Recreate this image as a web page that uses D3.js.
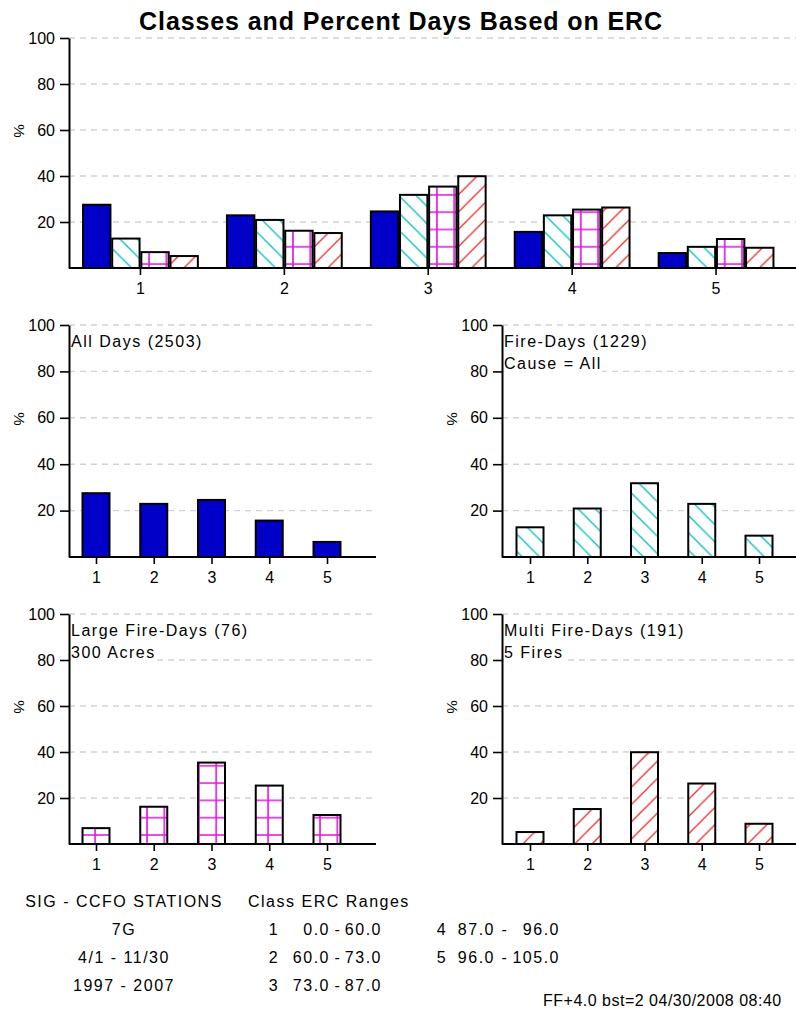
<html>

<head>
    <meta charset="utf-8">
    <style>
        body {
            margin: 0;
            background: white;
            font-family: "Liberation Sans", Arial, sans-serif;
        }

        svg {
            display: block;
        }

        .axis text {
            font-size: 16px;
            font-family: "Liberation Sans", Arial, sans-serif;
            fill: black;
        }

        .note {
            font-size: 16px;
            letter-spacing: 1.5px;
        }
    </style>
    <script src="https://d3js.org/d3.v7.min.js"></script>
</head>

<body>
    <svg id="Chart"></svg>
</body>

<script>
    // values (percent of days per ERC class)
    let classes = [1, 2, 3, 4, 5]
    let seriesNames = ["All Days", "Fire-Days", "Large Fire-Days", "Multi Fire-Days"]
    let allDays = [27.5, 22.9, 24.6, 15.7, 6.5]
    let fireDays = [12.8, 20.9, 31.8, 22.9, 9.2]
    let largeFireDays = [6.9, 16.2, 35.4, 25.4, 12.6]
    let multiFireDays = [5.2, 15.2, 39.9, 26.3, 8.8]
    let yTicks = [20, 40, 60, 80, 100]

    let panelLabels = [
        ["All Days (2503)"],
        ["Fire-Days (1229)", "Cause = All"],
        ["Large Fire-Days (76)", "300 Acres"],
        ["Multi Fire-Days (191)", "5 Fires"]
    ]
    let titleText = "Classes and Percent Days Based on ERC"
    let stationLines = ["SIG - CCFO STATIONS", "7G", "4/1 - 11/30", "1997 - 2007"]
    let ercHeader = "Class ERC Ranges"
    let ercClasses = [1, 2, 3, 4, 5]
    let ercLow = ["0.0", "60.0", "73.0", "87.0", "96.0"]
    let ercHigh = ["60.0", "73.0", "87.0", "96.0", "105.0"]
    let stampText = "FF+4.0 bst=2 04/30/2008 08:40"

    let seriesData = [allDays, fireDays, largeFireDays, multiFireDays]
    let fills = ["#0000c8", "url(#hatchCyan)", "url(#hatchGrid)", "url(#hatchRed)"]

    let width = 796
    let height = 1009
    let svg = d3.select("#Chart").attr("width", width).attr("height", height)

    definePatterns()
    drawTitle()
    drawGroupedChart()
    drawSmallCharts()
    drawFooter()

    function definePatterns() {
        let s = 17.3
        let defs = svg.append("defs")

        let cyan = defs.append("pattern").attr("id", "hatchCyan")
            .attr("patternUnits", "userSpaceOnUse").attr("width", s).attr("height", s)
        cyan.append("rect").attr("width", s).attr("height", s).attr("fill", "white")
        cyan.append("path")
            .attr("d", `M-2,${s - 2} l4,4 M0,0 L${s},${s} M${s - 2},-2 l4,4`)
            .attr("stroke", "#10c4c4").attr("stroke-width", 1.4)

        let grid = defs.append("pattern").attr("id", "hatchGrid")
            .attr("patternUnits", "userSpaceOnUse").attr("width", s).attr("height", s)
            .attr("y", 835 % s - s / 2)
        grid.append("rect").attr("width", s).attr("height", s).attr("fill", "white")
        grid.append("path")
            .attr("d", `M0,${s / 2} H${s} M${s / 2},0 V${s}`)
            .attr("stroke", "#e010e0").attr("stroke-width", 1.6)

        let red = defs.append("pattern").attr("id", "hatchRed")
            .attr("patternUnits", "userSpaceOnUse").attr("width", s).attr("height", s)
        red.append("rect").attr("width", s).attr("height", s).attr("fill", "white")
        red.append("path")
            .attr("d", `M-2,2 l4,-4 M0,${s} L${s},0 M${s - 2},${s + 2} l4,-4`)
            .attr("stroke", "#f02828").attr("stroke-width", 1.3)
    }

    function drawTitle() {
        svg.append("text")
            .attr("x", 401).attr("y", 30)
            .attr("text-anchor", "middle")
            .style("font-size", "25px").style("font-weight", "bold")
            .style("letter-spacing", "0.9px")
            .text(titleText)
    }

    // FRAME: gridlines, axes and the % label shared by every panel
    function getYScale(panel) {
        return d3.scaleLinear().domain([0, 100]).range([panel.base, panel.top])
    }

    function drawGrid(g, panel, yScale) {
        g.append("g").selectAll("line")
            .data(yTicks)
            .enter().append("line")
            .attr("x1", panel.axisX).attr("x2", panel.gridEnd)
            .attr("y1", d => yScale(d)).attr("y2", d => yScale(d))
            .attr("stroke", "#d2d2d2").attr("stroke-width", 1.4)
            .attr("stroke-dasharray", "6,5")
    }

    function drawAxes(g, panel, yScale, xScale) {
        let yAxis = d3.axisLeft(yScale).tickValues(yTicks).tickSize(9).tickPadding(5).tickSizeOuter(0)
        let ya = g.append("g").attr("class", "axis")
            .attr("transform", `translate(${panel.axisX},0)`)
            .call(yAxis)
        ya.select(".domain").attr("stroke-width", 2)
        ya.selectAll(".tick line").attr("stroke-width", 1.6)

        let xAxis = d3.axisBottom(xScale).tickSize(7).tickPadding(8).tickSizeOuter(0)
        let xa = g.append("g").attr("class", "axis")
            .attr("transform", `translate(0,${panel.base})`)
            .call(xAxis)
        xa.select(".domain").remove()
        xa.selectAll(".tick line").attr("stroke-width", 1.6)

        g.append("line")
            .attr("x1", panel.axisX).attr("x2", panel.xEnd)
            .attr("y1", panel.base).attr("y2", panel.base)
            .attr("stroke", "black").attr("stroke-width", 2)

        g.append("text")
            .attr("transform", `translate(${panel.axisX - 50},${yScale(60) + 1}) rotate(90)`)
            .attr("text-anchor", "middle").attr("dy", "0.35em")
            .style("font-size", "15px")
            .text("%")
    }

    function drawLabels(g, panel, lines) {
        lines.forEach((line, i) => {
            let t = g.append("text")
                .attr("class", "note")
                .attr("x", panel.axisX + 2)
                .attr("y", panel.top + 22 + i * 22)
                .text(line)
            let box = t.node().getBBox()
            g.insert("rect", "text")
                .attr("x", box.x).attr("y", box.y + 1)
                .attr("width", box.width).attr("height", box.height - 1)
                .attr("fill", "white")
        })
    }

    // TOP CHART: four series grouped by class
    function drawGroupedChart() {
        let panel = { axisX: 69, top: 38, base: 268, xEnd: 796, gridEnd: 796 }
        let yScale = getYScale(panel)
        let xScale = d3.scaleBand().domain(classes).range([68.5, 788])
        let inner = d3.scaleBand().domain(d3.range(seriesNames.length))
            .range([-57.4, 57.4]).paddingInner(0.06)

        let g = svg.append("g")
        drawGrid(g, panel, yScale)

        let groups = g.append("g").selectAll("g")
            .data(classes)
            .enter().append("g")
            .attr("transform", d => `translate(${xScale(d) + xScale.bandwidth() / 2},0)`)

        groups.selectAll("rect")
            .data((c, ci) => seriesData.map((s, si) => ({ si, value: s[ci] })))
            .enter().append("rect")
            .attr("x", d => inner(d.si))
            .attr("width", inner.bandwidth())
            .attr("y", d => yScale(d.value))
            .attr("height", d => panel.base - yScale(d.value))
            .attr("fill", d => fills[d.si])
            .attr("stroke", "black").attr("stroke-width", 2)

        drawAxes(g, panel, yScale, xScale)
    }

    // SMALL CHARTS: one series each
    function drawSmallCharts() {
        let panels = [
            { axisX: 69, top: 325, base: 557, xEnd: 376, gridEnd: 372, first: 96, last: 327 },
            { axisX: 502, top: 325, base: 557, xEnd: 796, gridEnd: 796, first: 530, last: 759 },
            { axisX: 69, top: 614, base: 844, xEnd: 376, gridEnd: 372, first: 96, last: 327 },
            { axisX: 502, top: 614, base: 844, xEnd: 796, gridEnd: 796, first: 530, last: 759 }
        ]
        panels.forEach((panel, si) => {
            let yScale = getYScale(panel)
            let xScale = d3.scalePoint().domain(classes).range([panel.first, panel.last])
            let barWidth = 27
            let g = svg.append("g")
            drawGrid(g, panel, yScale)
            drawLabels(g, panel, panelLabels[si])

            g.append("g").selectAll("rect")
                .data(seriesData[si])
                .enter().append("rect")
                .attr("x", (d, i) => xScale(classes[i]) - barWidth / 2)
                .attr("width", barWidth)
                .attr("y", d => yScale(d))
                .attr("height", d => panel.base - yScale(d))
                .attr("fill", fills[si])
                .attr("stroke", "black").attr("stroke-width", 2)

            drawAxes(g, panel, yScale, xScale)
        })
    }

    function drawFooter() {
        let g = svg.append("g").attr("class", "note")

        g.selectAll(".station")
            .data(stationLines)
            .enter().append("text")
            .attr("x", 124).attr("y", (d, i) => 907 + i * 28)
            .attr("text-anchor", "middle")
            .text(d => d)

        g.append("text").attr("x", 248).attr("y", 907).text(ercHeader)

        let cols = [
            { num: 274, low: 330, dash: 338, high: 382 },
            { num: 442, low: 495, dash: 505, high: 560 }
        ]
        ercClasses.forEach((c, i) => {
            let col = cols[i < 3 ? 0 : 1]
            let y = 935 + (i % 3) * 28
            g.append("text").attr("x", col.num).attr("y", y).attr("text-anchor", "middle").text(c)
            g.append("text").attr("x", col.low).attr("y", y).attr("text-anchor", "end").text(ercLow[i])
            g.append("text").attr("x", col.dash).attr("y", y).attr("text-anchor", "middle").text("-")
            g.append("text").attr("x", col.high).attr("y", y).attr("text-anchor", "end").text(ercHigh[i])
        })

        g.append("text").attr("x", 543).attr("y", 1006)
            .style("letter-spacing", "0.5px")
            .text(stampText)
    }
</script>

</html>
